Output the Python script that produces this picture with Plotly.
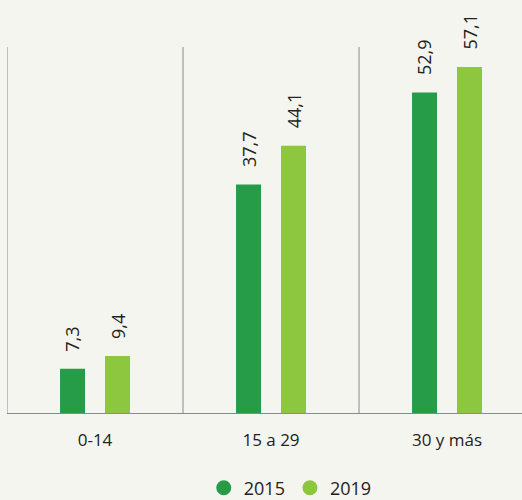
import plotly.graph_objects as go

# Data
categories = ["0-14", "15 a 29", "30 y más"]
values_2015 = [7.3, 37.7, 52.9]
values_2019 = [9.4, 44.1, 57.1]
years = ["2015", "2019"]
colors = ["#269c48", "#8dc63f"]

BG = "#f5f5f0"
LINE = "#8a8a8a"
FONT = "Open Sans"
TXT = "#222222"
Y_TOP = 60.4


def fmt(v):
    return f"{v:.1f}".replace(".", ",")


fig = go.Figure()
series = [values_2015, values_2019]
for name, vals, col in zip(years, series, colors):
    fig.add_trace(go.Bar(
        x=categories, y=vals, name=name, marker_color=col,
        marker_line_width=0, showlegend=False,
    ))
    # circular legend markers
    fig.add_trace(go.Scatter(
        x=[None], y=[None], mode="markers", name=name,
        marker=dict(color=col, size=15, symbol="circle"),
    ))

# rotated value labels above each bar
offsets = [-22.5, 22.5]
for off, vals in zip(offsets, series):
    for cat, v in zip(categories, vals):
        fig.add_annotation(
            x=cat, y=v, text=fmt(v), showarrow=False, textangle=-90,
            xshift=off, yshift=15, yanchor="bottom", xanchor="center",
            font=dict(family=FONT, size=18, color=TXT),
        )

# vertical separators between groups
for xpos in [-0.5, 0.5, 1.5]:
    fig.add_shape(type="line", xref="x", yref="y", x0=xpos, x1=xpos,
                  y0=0, y1=Y_TOP, line=dict(color=LINE, width=1))

fig.update_layout(
    width=522, height=500,
    paper_bgcolor=BG, plot_bgcolor=BG,
    margin=dict(l=7, r=0, t=47, b=87, autoexpand=False),
    barmode="group", bargap=0.489, bargroupgap=0.444,
    font=dict(family=FONT, size=17, color=TXT),
    legend=dict(orientation="h", x=0.55, xanchor="center", y=-0.205,
                yanchor="middle", font=dict(family=FONT, size=18, color=TXT),
                itemwidth=30, bgcolor="rgba(0,0,0,0)"),
    xaxis=dict(range=[-0.5, 2.426], showline=True, linecolor=LINE,
               linewidth=1, ticks="outside", ticklen=12, tickcolor=BG,
               showgrid=False, automargin=False,
               tickfont=dict(family=FONT, size=17, color=TXT)),
    yaxis=dict(range=[0, Y_TOP], showticklabels=False, showgrid=False,
               zeroline=False, showline=False, ticks="", automargin=False),
)

fig.write_html("out.html")
